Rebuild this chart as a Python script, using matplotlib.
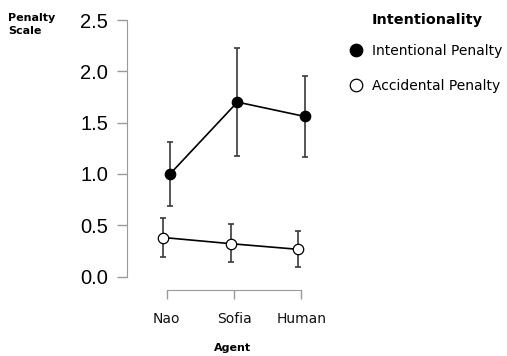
import numpy as np
import matplotlib.pyplot as plt

# data
agents = ["Nao", "Sofia", "Human"]
intentional = [1.00, 1.70, 1.56]
intentional_lo = [0.69, 1.17, 1.16]
intentional_hi = [1.31, 2.23, 1.95]
accidental = [0.38, 0.32, 0.265]
accidental_lo = [0.19, 0.14, 0.09]
accidental_hi = [0.57, 0.51, 0.44]
yticks = [0.0, 0.5, 1.0, 1.5, 2.0, 2.5]

fig = plt.figure(figsize=(5.07, 3.56), dpi=100)
ax = fig.add_axes([0.25, 0.2233, 0.424, 0.7205])

x = np.arange(len(agents))
dodge = 0.05
err_col = "#3a3a3a"

def draw(xs, mean, lo, hi, face, label):
    mean = np.array(mean)
    yerr = [mean - np.array(lo), np.array(hi) - mean]
    ax.errorbar(xs, mean, yerr=yerr, fmt="none", ecolor=err_col, elinewidth=1.2,
                capsize=2.5, capthick=1.2, zorder=1)
    ax.plot(xs, mean, color="black", lw=1.2, zorder=2)
    ax.plot(xs, mean, ls="none", marker="o", ms=7.5, mfc=face, mec="black",
            mew=0.9, zorder=3, label=label)

draw(x + dodge, intentional, intentional_lo, intentional_hi, "black", "Intentional Penalty")
draw(x - dodge, accidental, accidental_lo, accidental_hi, "white", "Accidental Penalty")

ax.set_xlim(-0.594, 2.6)
ax.set_ylim(0, 2.5)
ax.set_yticks(yticks)
ax.set_yticklabels([f"{v:.1f}" for v in yticks], fontfamily="Liberation Sans", fontsize=14.5)
ax.set_xticks(x)
ax.set_xticklabels(agents, fontsize=8.5, fontfamily="DejaVu Sans")

for s in ["top", "right"]:
    ax.spines[s].set_visible(False)
spine_col = "#999999"
ax.spines["left"].set_color(spine_col)
ax.spines["bottom"].set_color(spine_col)
ax.spines["left"].set_bounds(0, 2.5)
ax.spines["bottom"].set_bounds(0, 2)
ax.spines["bottom"].set_position(("outward", 9.7))
ax.tick_params(axis="y", color=spine_col, length=7.5, width=1, pad=6)
ax.tick_params(axis="x", color=spine_col, length=6.5, width=1, pad=9, labelcolor="#111111")

fig.text(0.016, 0.9635, "Penalty\nScale", fontsize=8, fontweight="bold",
         va="top", ha="left", linespacing=1.4)
fig.text(0.4576, 0.0225, "Agent", fontsize=8, fontweight="bold", ha="center", va="center")

# legend title placed on its own so it lines up with the entry text
fig.text(0.7337, 0.9438, "Intentionality", fontsize=10.4, fontweight="bold",
         ha="left", va="center")
leg = ax.legend(loc="upper left", bbox_to_anchor=(0.6748, 0.891),
                bbox_transform=fig.transFigure, frameon=False,
                markerscale=1.2, labelspacing=1.49,
                handletextpad=0.55, handlelength=1.2, borderaxespad=0,
                prop={"size": 10})

fig.savefig("out.png", dpi=100)
